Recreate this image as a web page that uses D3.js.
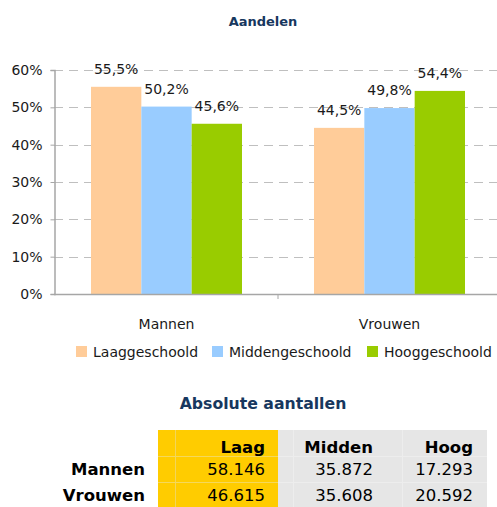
<!DOCTYPE html>
<html>
<head>
<meta charset="utf-8">
<script src="https://cdn.jsdelivr.net/npm/d3@7"></script>
<style>
  html, body { margin: 0; padding: 0; background: #fff; }
  svg { display: block; }
</style>
</head>
<body>
<svg id="chart" width="497" height="507"></svg>
<script>
// ---- data ----
const categories = ["Mannen", "Vrouwen"];
const seriesNames = ["Laaggeschoold", "Middengeschoold", "Hooggeschoold"];
const laag = [55.5, 44.5];
const midden = [50.2, 49.8];
const hoog = [45.6, 54.4];
const yTicks = [0, 10, 20, 30, 40, 50, 60];
const tableColumns = ["Laag", "Midden", "Hoog"];
const tableRows = ["Mannen", "Vrouwen"];
const countsLaag = ["58.146", "46.615"];
const countsMidden = ["35.872", "35.608"];
const countsHoog = ["17.293", "20.592"];

const colors = ["#FFCC99", "#99CCFF", "#99CC00"];
const titleColor = "#17375E";
const font = "'DejaVu Sans', Verdana, sans-serif";

const seriesValues = [laag, midden, hoog];

const svg = d3.select("#chart");

// ---- title ----
svg.append("text")
  .attr("x", 263).attr("y", 26)
  .attr("text-anchor", "middle")
  .attr("font-family", font).attr("font-weight", "bold")
  .attr("font-size", 13).attr("fill", titleColor)
  .text("Aandelen");

// ---- scales ----
const y = d3.scaleLinear().domain([0, 60]).range([294, 70]);
const x0 = d3.scaleBand().domain(categories).range([55, 501]).paddingInner(0).paddingOuter(0);
const groupPad = 36; // inner offset within band
const x1 = d3.scaleBand().domain(seriesNames).range([0, x0.bandwidth() - 2 * groupPad]);

// gridlines
svg.append("g").selectAll("line")
  .data(yTicks.filter(d => d > 0))
  .join("line")
  .attr("x1", 54).attr("x2", 497)
  .attr("y1", d => Math.round(y(d)) + 0.5).attr("y2", d => Math.round(y(d)) + 0.5)
  .attr("stroke", "#BFBFBF").attr("stroke-width", 1)
  .attr("stroke-dasharray", "9,6");

// bars
const groups = svg.append("g").selectAll("g")
  .data(categories)
  .join("g")
  .attr("transform", d => `translate(${x0(d) + groupPad},0)`);

groups.selectAll("rect")
  .data((c, ci) => seriesNames.map((s, si) => ({ s, si, v: seriesValues[si][ci] })))
  .join("rect")
  .attr("x", d => x1(d.s))
  .attr("width", x1.bandwidth())
  .attr("y", d => y(d.v))
  .attr("height", d => y(0) - y(d.v))
  .attr("fill", d => colors[d.si]);

groups.selectAll("text")
  .data((c, ci) => seriesNames.map((s, si) => ({ s, si, v: seriesValues[si][ci] })))
  .join("text")
  .attr("x", d => x1(d.s) + x1.bandwidth() / 2)
  .attr("y", d => y(d.v) - 13)
  .attr("text-anchor", "middle")
  .attr("font-family", font).attr("font-size", 14).attr("fill", "#1a1a1a")
  .text(d => d3.format(".1f")(d.v).replace(".", ",") + "%");

// y axis
const yAxis = d3.axisLeft(y).tickValues(yTicks).tickSize(4).tickFormat(d => d + "%");
const gy = svg.append("g").attr("transform", "translate(54.5,0)").call(yAxis);
gy.select(".domain").attr("stroke", "#A6A6A6").attr("stroke-width", 1.5);
gy.selectAll(".tick line").attr("stroke", "#A6A6A6");
gy.selectAll(".tick text")
  .attr("font-family", font).attr("font-size", 14).attr("fill", "#1a1a1a")
  .attr("x", -12);

// x axis
const xAxis = d3.axisBottom(x0).tickSize(0).tickPadding(0);
const gx = svg.append("g").attr("transform", "translate(0,294.5)").call(xAxis);
gx.select(".domain").attr("stroke", "#A6A6A6").attr("stroke-width", 1.5).attr("d", "M54,0H497");
gx.selectAll(".tick text")
  .attr("font-family", font).attr("font-size", 14).attr("fill", "#1a1a1a")
  .attr("dy", 0).attr("y", 34);
// middle tick between categories
svg.append("line")
  .attr("x1", x0("Vrouwen")).attr("x2", x0("Vrouwen"))
  .attr("y1", 294).attr("y2", 299)
  .attr("stroke", "#A6A6A6").attr("stroke-width", 1);

// legend
const legendX = [76, 212, 367];
const lg = svg.append("g").selectAll("g")
  .data(seriesNames)
  .join("g")
  .attr("transform", (d, i) => `translate(${legendX[i]},346)`);
lg.append("rect").attr("width", 11).attr("height", 11).attr("fill", (d, i) => colors[i]);
lg.append("text").attr("x", 17).attr("y", 11)
  .attr("font-family", font).attr("font-size", 14).attr("fill", "#1a1a1a")
  .text(d => d);

// ---- table ----
svg.append("text")
  .attr("x", 263).attr("y", 409)
  .attr("text-anchor", "middle")
  .attr("font-family", font).attr("font-weight", "bold")
  .attr("font-size", 15.7).attr("fill", titleColor)
  .text("Absolute aantallen");

const tTop = 430, tBottom = 507;
svg.append("rect").attr("x", 158).attr("y", tTop).attr("width", 120).attr("height", tBottom - tTop).attr("fill", "#FFCC00");
svg.append("rect").attr("x", 278).attr("y", tTop).attr("width", 209).attr("height", tBottom - tTop).attr("fill", "#E6E6E6");
// faint cell borders
svg.append("line").attr("x1", 175.5).attr("x2", 175.5).attr("y1", tTop).attr("y2", tBottom).attr("stroke", "#F2D55A").attr("stroke-width", 1);
[456.5, 482.5].forEach(yy => {
  svg.append("line").attr("x1", 158).attr("x2", 278).attr("y1", yy).attr("y2", yy).attr("stroke", "#F5D85C");
  svg.append("line").attr("x1", 278).attr("x2", 487).attr("y1", yy).attr("y2", yy).attr("stroke", "#EDEDED");
});
[293.5, 402.5].forEach(xx => {
  svg.append("line").attr("x1", xx).attr("x2", xx).attr("y1", tTop).attr("y2", tBottom).attr("stroke", "#EDEDED");
});

const colRight = [265, 373, 473];
const rowBase = [453, 475, 501];
const countCols = [countsLaag, countsMidden, countsHoog];

svg.append("g").selectAll("text")
  .data(tableColumns)
  .join("text")
  .attr("x", (d, i) => colRight[i]).attr("y", rowBase[0])
  .attr("text-anchor", "end")
  .attr("font-family", font).attr("font-weight", "bold").attr("font-size", 16.5).attr("fill", "#000")
  .text(d => d);

svg.append("g").selectAll("text")
  .data(tableRows)
  .join("text")
  .attr("x", 145).attr("y", (d, i) => rowBase[i + 1])
  .attr("text-anchor", "end")
  .attr("font-family", font).attr("font-weight", "bold").attr("font-size", 16.5).attr("fill", "#000")
  .text(d => d);

tableRows.forEach((r, ri) => {
  countCols.forEach((col, ci) => {
    svg.append("text")
      .attr("x", colRight[ci]).attr("y", rowBase[ri + 1])
      .attr("text-anchor", "end")
      .attr("font-family", font).attr("font-size", 16.5).attr("fill", "#000")
      .text(col[ri]);
  });
});
</script>
</body>
</html>
